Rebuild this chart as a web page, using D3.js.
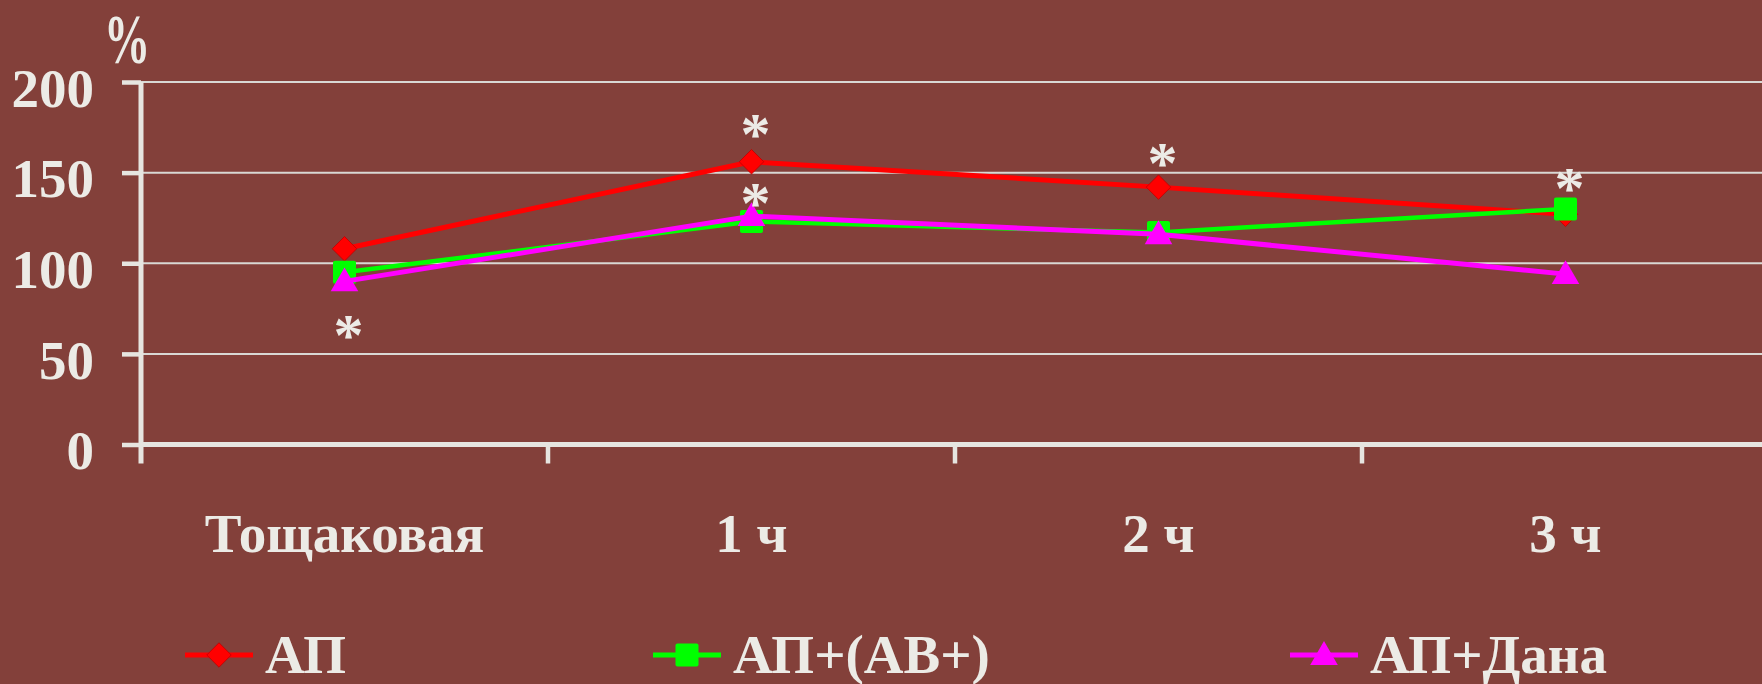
<!DOCTYPE html>
<html>
<head>
<meta charset="utf-8">
<script src="https://cdn.jsdelivr.net/npm/d3@7"></script>
<style>
  html, body { margin: 0; padding: 0; background: #83403a; }
  svg { display: block; }
  text { font-family: "Liberation Serif", "Times New Roman", serif; fill: #ecebe6; }
</style>
</head>
<body>
<svg id="chart" width="1762" height="684"></svg>
<script>
// Time points and the three series (% of baseline)
const categories = ["Тощаковая", "1 ч", "2 ч", "3 ч"];
const seriesNames = ["АП", "АП+(АВ+)", "АП+Дана"];
const valuesAP = [108, 156, 142, 127];
const valuesAPAB = [95, 123, 117, 130];
const valuesAPDana = [90, 126, 116, 94];
const yTicks = [0, 50, 100, 150, 200];
const yUnit = "%";

// Significance marks: category and the level (in %) at which each "*" sits
const starCategories = ["Тощаковая", "1 ч", "1 ч", "2 ч", "3 ч"];
const starLevels = [66, 177, 139, 161, 147];

const W = 1762, H = 684;
const plotLeft = 141, plotTop = 82, plotBottom = 444.5;
const band = 407;

const svg = d3.select("#chart");
svg.append("rect").attr("width", W).attr("height", H).attr("fill", "#83403a");

const x = d3.scaleBand().domain(categories).range([plotLeft, plotLeft + band * categories.length]);
const y = d3.scaleLinear().domain([0, 200]).range([plotBottom, plotTop]);
const cx = c => x(c) + x.bandwidth() / 2;

const axisColor = "#e6e5e0";

// horizontal grid
svg.append("g").selectAll("line")
  .data(yTicks.filter(v => v > 0))
  .join("line")
  .attr("x1", plotLeft).attr("x2", W)
  .attr("y1", d => y(d)).attr("y2", d => y(d))
  .attr("stroke", "#d9d8d4").attr("stroke-width", 2);

// y axis with left ticks
const yAxis = d3.axisLeft(y).tickValues(yTicks).tickSize(19).tickPadding(28).tickFormat(d3.format("d"));
const gy = svg.append("g").attr("transform", `translate(${plotLeft},0)`).call(yAxis);
gy.select(".domain").remove();
gy.selectAll(".tick line").attr("stroke", axisColor).attr("stroke-width", 4.5);
gy.selectAll(".tick text")
  .attr("font-size", 55).attr("font-weight", "bold")
  .attr("fill", "#ecebe6")
  .attr("font-family", "Liberation Serif, serif")
  .attr("x", -47).attr("dy", "0.44em");
gy.append("line").attr("x1", 0).attr("x2", 0).attr("y1", plotTop).attr("y2", plotBottom + 19)
  .attr("stroke", axisColor).attr("stroke-width", 5);

// x axis line and band-boundary ticks
svg.append("line").attr("x1", plotLeft).attr("x2", W).attr("y1", plotBottom).attr("y2", plotBottom)
  .attr("stroke", axisColor).attr("stroke-width", 5);
svg.append("g").selectAll("line")
  .data(categories.slice(1))
  .join("line")
  .attr("x1", d => x(d)).attr("x2", d => x(d))
  .attr("y1", plotBottom).attr("y2", plotBottom + 19)
  .attr("stroke", axisColor).attr("stroke-width", 4.5);

// category labels
svg.append("g").selectAll("text")
  .data(categories)
  .join("text")
  .attr("x", d => cx(d)).attr("y", 552)
  .attr("text-anchor", "middle")
  .attr("font-size", 55).attr("font-weight", "bold")
  .text(d => d);

// unit label
svg.append("text")
  .attr("transform", "translate(127,63) scale(0.66,1)")
  .attr("text-anchor", "middle")
  .attr("font-size", 70).attr("font-weight", "bold")
  .text(yUnit);

// marker shapes
const sym = {
  diamond: d3.symbol().type(d3.symbolSquare).size(300),
  triangle: d3.symbol().type(d3.symbolTriangle).size(330)
};
const series = [
  { name: seriesNames[0], values: valuesAP, color: "#ff0000", width: 5, marker: "diamond" },
  { name: seriesNames[1], values: valuesAPAB, color: "#00ff00", width: 4.5, marker: "square" },
  { name: seriesNames[2], values: valuesAPDana, color: "#ff00ff", width: 5, marker: "triangle" }
];

function drawMarker(g, s, px, py) {
  if (s.marker === "diamond") {
    g.append("path").attr("d", sym.diamond()).attr("transform", `translate(${px},${py}) rotate(45)`)
      .attr("fill", s.color).attr("stroke", "#c00000").attr("stroke-width", 0.8);
  } else if (s.marker === "square") {
    g.append("rect").attr("x", px - 11.5).attr("y", py - 11.5).attr("width", 23).attr("height", 23)
      .attr("rx", 2).attr("fill", s.color);
  } else {
    g.append("path").attr("d", sym.triangle()).attr("transform", `translate(${px},${py + 2})`)
      .attr("fill", s.color);
  }
}

const line = d3.line().x((d, i) => cx(categories[i])).y(d => y(d));
series.forEach(s => {
  const g = svg.append("g");
  g.append("path").datum(s.values).attr("d", line)
    .attr("fill", "none").attr("stroke", s.color).attr("stroke-width", s.width)
    .attr("stroke-linejoin", "round");
  s.values.forEach((v, i) => drawMarker(g, s, cx(categories[i]), y(v)));
});

// significance asterisks
svg.append("g").selectAll("text")
  .data(starCategories.map((c, i) => ({ c, v: starLevels[i] })))
  .join("text")
  .attr("x", d => cx(d.c) + 4).attr("y", d => y(d.v))
  .attr("dy", "0.5em")
  .attr("text-anchor", "middle")
  .attr("font-size", 60).attr("font-weight", "bold")
  .text("*");

// legend
const legendX = [185, 653, 1290];
const legendY = 655;
series.forEach((s, i) => {
  const g = svg.append("g");
  const lx = legendX[i];
  g.append("line").attr("x1", lx).attr("x2", lx + 68).attr("y1", legendY).attr("y2", legendY)
    .attr("stroke", s.color).attr("stroke-width", 5);
  drawMarker(g, s, lx + 34, legendY);
  g.append("text").attr("x", lx + 80).attr("y", 673)
    .attr("font-size", 55).attr("font-weight", "bold")
    .text(s.name);
});
</script>
</body>
</html>
